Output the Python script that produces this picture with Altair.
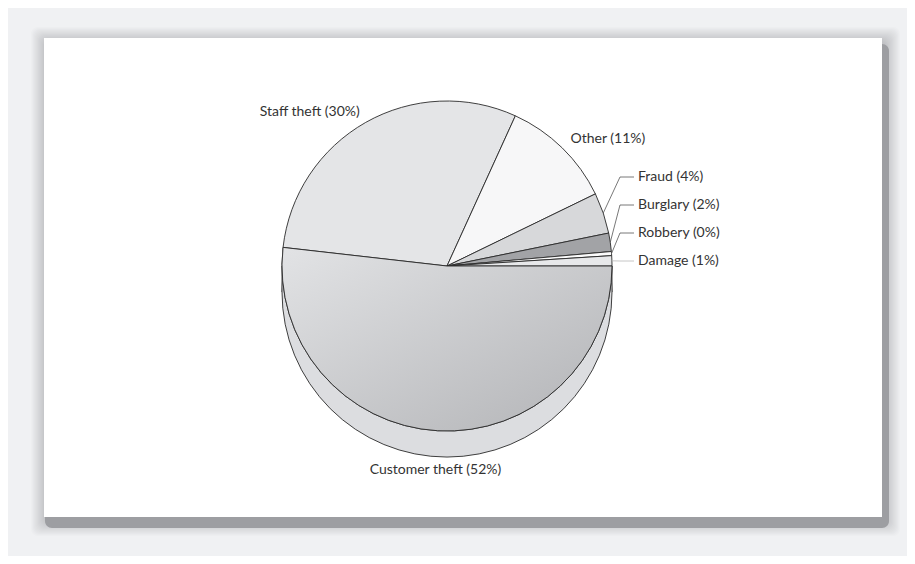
import math
import altair as alt
import pandas as pd

# ---- data ----
categories = ["Customer theft", "Staff theft", "Other", "Fraud", "Burglary", "Robbery", "Damage"]
values = [51.8, 30.0, 11.0, 4.0, 1.8, 0.4, 1.0]
pct_labels = [52, 30, 11, 4, 2, 0, 1]
slice_colors = ["#c6c7ca", "#e4e5e7", "#f7f7f8", "#d7d8da", "#a2a3a6", "#fbfbfb", "#e7e8ea"]

# ---- layout / style ----
W, H = 899, 548
BG = "#f0f1f3"
SIDE = "#dcdde0"
STROKE = "#2a2a2a"
FONT = "Lato"
CX, CY = 439, 258
R = 165
DEPTH = 26
TOTAL = sum(values)
START = math.pi / 2
N = len(categories)
theta_scale = alt.Scale(domain=[0, TOTAL], range=[START, START + 2 * math.pi])

df = pd.DataFrame({"category": categories, "value": values, "pct": pct_labels, "idx": list(range(N))})

# card with soft shadow (decoration)
CARD = (36, 30, 874, 509)
def mix(c1, c2, t):
    a = [int(c1[i:i + 2], 16) for i in (1, 3, 5)]
    b = [int(c2[i:i + 2], 16) for i in (1, 3, 5)]
    return "#" + "".join(f"{round(a[i] + (b[i] - a[i]) * t):02x}" for i in range(3))

rings = []
K = 16
for k in range(K, 0, -1):
    t = (K - k) / (K - 1)
    rings.append({"x": CARD[0] - k + 2, "y": CARD[1] - k + 4, "x2": CARD[2] + k + 3,
                  "y2": CARD[3] + k + 4, "c": mix(BG, "#c0c1c4", t)})
rings.append({"x": CARD[0] + 1, "y": CARD[1] + 6, "x2": CARD[2] + 7, "y2": CARD[3] + 11, "c": "#9d9ea2"})
rings_df = pd.DataFrame(rings)
rings_df["o"] = range(len(rings_df))
card_df = pd.DataFrame([{"x": CARD[0], "y": CARD[1], "x2": CARD[2], "y2": CARD[3]}])

shadow = alt.Chart(rings_df).mark_rect(cornerRadius=7).encode(
    x=alt.X("x:Q", scale=None, axis=None), x2="x2:Q",
    y=alt.Y("y:Q", scale=None, axis=None), y2="y2:Q",
    color=alt.Color("c:N", scale=None, legend=None),
    order=alt.Order("o:Q"),
)
card = alt.Chart(card_df).mark_rect(fill="#ffffff").encode(
    x=alt.X("x:Q", scale=None, axis=None), x2="x2:Q",
    y=alt.Y("y:Q", scale=None, axis=None), y2="y2:Q",
)

base = alt.Chart(df).transform_window(
    cum="sum(value)", sort=[alt.SortField("idx")]
).transform_calculate(
    t0="datum.cum - datum.value",
    t1="datum.cum",
    mid=f"{START} + 2*PI*(datum.cum - datum.value/2)/{TOTAL}",
    label="datum.category + ' (' + datum.pct + '%)'",
)

agg = alt.Chart(df).transform_aggregate(total="sum(value)")

side = agg.mark_arc(outerRadius=R, fill=SIDE, stroke=STROKE, strokeWidth=0.9).encode(
    x=alt.value(CX), y=alt.value(CY + DEPTH),
    theta=alt.Theta("total:Q", scale=theta_scale),
)
side_rect = agg.mark_rect(fill=SIDE).encode(
    x=alt.value(CX - R), x2=alt.value(CX + R), y=alt.value(CY), y2=alt.value(CY + DEPTH)
)
edge_l = agg.mark_rule(color=STROKE, strokeWidth=0.9).encode(
    x=alt.value(CX - R), y=alt.value(CY), y2=alt.value(CY + DEPTH)
)
edge_r = agg.mark_rule(color=STROKE, strokeWidth=0.9).encode(
    x=alt.value(CX + R), y=alt.value(CY), y2=alt.value(CY + DEPTH)
)

slices = base.mark_arc(outerRadius=R, stroke=STROKE, strokeWidth=0.9).encode(
    x=alt.value(CX), y=alt.value(CY),
    theta=alt.Theta("t0:Q", scale=theta_scale), theta2="t1:Q",
    color=alt.Color("category:N", scale=alt.Scale(domain=categories, range=slice_colors), legend=None),
)

grad = alt.LinearGradient(
    gradient="linear",
    stops=[alt.GradientStop(color="#e2e3e5", offset=0), alt.GradientStop(color="#b2b3b6", offset=1)],
    x1=0, y1=0, x2=1, y2=1,
)
customer = base.transform_filter("datum.idx == 0").mark_arc(
    outerRadius=R, stroke=STROKE, strokeWidth=0.9, fill=grad
).encode(
    x=alt.value(CX), y=alt.value(CY),
    theta=alt.Theta("t0:Q", scale=theta_scale), theta2="t1:Q",
)

txt = dict(font=FONT, fontSize=14, color="#333333", baseline="middle")

big = base.transform_filter("datum.value >= 5").transform_calculate(
    s="sin(datum.mid)",
    rr=f"abs(sin(datum.mid)) < 0.2 ? {R + DEPTH + 13} : {R + 12}",
).transform_calculate(
    lx=f"{CX} + datum.rr*datum.s",
    ly=f"{CY} - datum.rr*cos(datum.mid)",
)
def big_layer(cond, align):
    return big.transform_filter(cond).mark_text(align=align, **txt).encode(
        x=alt.X("lx:Q", scale=None, axis=None), y=alt.Y("ly:Q", scale=None, axis=None), text="label:N"
    )
lab_left = big_layer("datum.s >= 0.2", "left")
lab_right = big_layer("datum.s <= -0.2", "right")
lab_center = big_layer("abs(datum.s) < 0.2", "center")

small = base.transform_filter("datum.value < 5").transform_calculate(
    j=f"{N - 1} - datum.idx",
    ex=f"{CX} + {R}*sin(datum.mid)",
    ey=f"{CY} - {R}*cos(datum.mid)",
).transform_calculate(
    ly=f"{CY} - 5 - 28*datum.j",
    bx=f"{CX + R + 8}",
    hx=f"{CX + R + 22}",
    tx=f"{CX + R + 26}",
)
lead_color = alt.condition("datum.j == 0", alt.value("#b8b8b8"), alt.value("#555555"))
lead1 = small.mark_rule(strokeWidth=0.8).encode(
    x=alt.X("ex:Q", scale=None, axis=None), y=alt.Y("ey:Q", scale=None, axis=None),
    x2="bx:Q", y2="ly:Q", color=lead_color,
)
lead2 = small.mark_rule(strokeWidth=0.8).encode(
    x=alt.X("bx:Q", scale=None, axis=None), y=alt.Y("ly:Q", scale=None, axis=None),
    x2="hx:Q", y2="ly:Q", color=lead_color,
)
lab_small = small.mark_text(align="left", **txt).encode(
    x=alt.X("tx:Q", scale=None, axis=None), y=alt.Y("ly:Q", scale=None, axis=None), text="label:N"
)

chart = alt.layer(
    shadow, card, side, side_rect, edge_l, edge_r, slices, customer,
    lab_left, lab_right, lab_center, lead1, lead2, lab_small,
).properties(
    width=W, height=H, background=BG, padding=0, autosize="none"
).configure_view(stroke=None)

chart.save("out.html", embed_options={"renderer": "svg", "actions": False})
